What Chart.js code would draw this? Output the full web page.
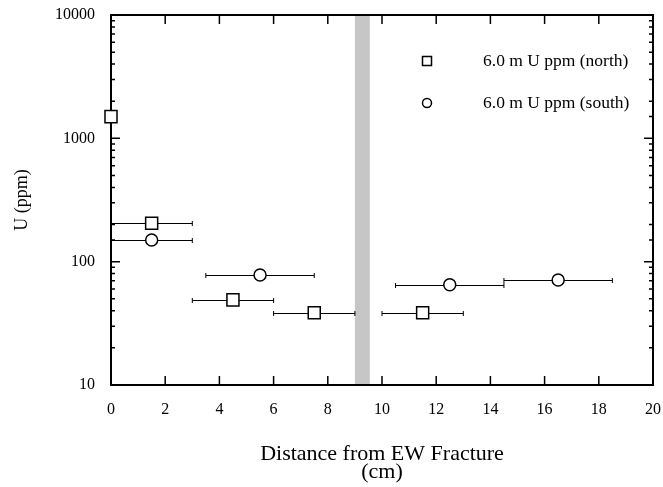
<!DOCTYPE html>
<html><head><meta charset="utf-8">
<script src="https://cdn.jsdelivr.net/npm/chart.js@4/dist/chart.umd.min.js"></script>
<style>html,body{margin:0;padding:0;background:#fff}</style>
</head><body>
<canvas id="c" width="663" height="487"></canvas>
<script>
// ---- data ----
const northLabel = '6.0 m U ppm (north)';
const southLabel = '6.0 m U ppm (south)';
const northX   = [0, 1.5, 4.5, 7.5, 11.5];
const northY   = [1500, 205, 49, 38.5, 38.5];
const northXLo = [null, 0, 3, 6, 10];
const northXHi = [null, 3, 6, 9, 13];
const southX   = [1.5, 5.5, 12.5, 16.5];
const southY   = [150, 78, 65, 71];
const southXLo = [0, 3.5, 10.5, 14.5];
const southXHi = [3, 7.5, 14.5, 18.5];
const fractureBand = [9.0, 9.55];
const xTickValues = [0, 2, 4, 6, 8, 10, 12, 14, 16, 18, 20];
const yTickValues = [10, 100, 1000, 10000];
const xTitle = ['Distance from EW Fracture', '(cm)'];
const yTitle = 'U (ppm)';

const FONT = "'Liberation Serif', 'Times New Roman', serif";

function pts(xs, ys) { return xs.map((x, i) => ({x: x, y: ys[i]})); }

const errorBars = [
  {x: northX, y: northY, lo: northXLo, hi: northXHi},
  {x: southX, y: southY, lo: southXLo, hi: southXHi}
];

const framePlugin = {
  id: 'frame',
  beforeDatasetsDraw(chart) {
    const {ctx, chartArea: a, scales: {x, y}} = chart;
    ctx.save();
    // fracture band
    const b0 = x.getPixelForValue(fractureBand[0]);
    const b1 = x.getPixelForValue(fractureBand[1]);
    ctx.fillStyle = '#c6c6c6';
    ctx.fillRect(b0, a.top, b1 - b0, a.bottom - a.top);
    // error bars
    ctx.strokeStyle = '#000';
    ctx.lineWidth = 1;
    errorBars.forEach(s => {
      s.x.forEach((_, i) => {
        if (s.lo[i] == null) return;
        const py = Math.round(y.getPixelForValue(s.y[i])) + 0.5;
        const p0 = x.getPixelForValue(s.lo[i]);
        const p1 = x.getPixelForValue(s.hi[i]);
        ctx.beginPath();
        ctx.moveTo(p0, py); ctx.lineTo(p1, py);
        ctx.moveTo(p0, py - 2.5); ctx.lineTo(p0, py + 2.5);
        ctx.moveTo(p1, py - 2.5); ctx.lineTo(p1, py + 2.5);
        ctx.stroke();
      });
    });
    // frame
    ctx.lineWidth = 2;
    ctx.strokeRect(a.left, a.top, a.right - a.left, a.bottom - a.top);
    // y ticks (inward, both sides)
    ctx.lineWidth = 1.5;
    y.ticks.forEach(t => {
      const py = y.getPixelForValue(t.value);
      const major = yTickValues.includes(t.value);
      const len = major ? 9 : 4;
      ctx.beginPath();
      ctx.moveTo(a.left, py); ctx.lineTo(a.left + len, py);
      ctx.moveTo(a.right, py); ctx.lineTo(a.right - len, py);
      ctx.stroke();
    });
    // x ticks (inward, top & bottom)
    x.ticks.forEach(t => {
      const px = x.getPixelForValue(t.value);
      ctx.beginPath();
      ctx.moveTo(px, a.bottom); ctx.lineTo(px, a.bottom - 9);
      ctx.moveTo(px, a.top); ctx.lineTo(px, a.top + 9);
      ctx.stroke();
    });
    ctx.restore();
  },
  afterDraw(chart) {
    const {ctx, chartArea: a} = chart;
    ctx.save();
    const mx = a.left + 316, tx = a.left + 372;
    const rows = [a.top + 46, a.top + 88];
    ctx.strokeStyle = '#000'; ctx.fillStyle = '#fff'; ctx.lineWidth = 1.5;
    ctx.strokeRect(mx - 4.5, rows[0] - 4.5, 9, 9);
    ctx.beginPath(); ctx.arc(mx, rows[1], 4.5, 0, Math.PI * 2); ctx.fill(); ctx.stroke();
    ctx.fillStyle = '#000';
    ctx.font = '17.5px ' + FONT;
    ctx.textBaseline = 'middle';
    ctx.fillText(northLabel, tx, rows[0]);
    ctx.fillText(southLabel, tx, rows[1]);
    ctx.restore();
  }
};

new Chart(document.getElementById('c'), {
  type: 'scatter',
  data: {
    datasets: [
      {label: northLabel, data: pts(northX, northY), pointStyle: 'rect', pointRadius: 8.5,
       borderColor: '#000', backgroundColor: '#fff', pointBorderWidth: 1.5, clip: false},
      {label: southLabel, data: pts(southX, southY), pointStyle: 'circle', pointRadius: 6,
       borderColor: '#000', backgroundColor: '#fff', pointBorderWidth: 1.5, clip: false}
    ]
  },
  options: {
    responsive: false, animation: false, devicePixelRatio: 1,
    layout: {padding: {top: 15, right: 7, left: 0, bottom: 0}},
    plugins: {legend: {display: false}, tooltip: {enabled: false}},
    scales: {
      x: {
        type: 'linear', min: 0, max: 20,
        afterBuildTicks: s => { s.ticks = xTickValues.map(v => ({value: v})); },
        grid: {display: false, drawTicks: false}, border: {display: false},
        ticks: {color: '#000', font: {family: FONT, size: 16}, padding: 15, maxRotation: 0},
        title: {display: true, text: xTitle, color: '#000',
                font: {family: FONT, size: 22, lineHeight: '18px'}, padding: {top: 0, bottom: 6}},
        afterFit: s => { s.height = 102; s.paddingLeft = 0; s.paddingRight = 0; }
      },
      y: {
        type: 'logarithmic', min: 10, max: 10000,
        grid: {display: false, drawTicks: false}, border: {display: false},
        ticks: {color: '#000', font: {family: FONT, size: 16}, padding: 16, autoSkip: false,
                callback: v => yTickValues.includes(v) ? String(v) : ''},
        title: {display: true, text: yTitle, color: '#000',
                font: {family: FONT, size: 18}, padding: {top: 11, bottom: 0}},
        afterFit: s => { s.width = 111; s.paddingTop = 0; s.paddingBottom = 0; }
      }
    }
  },
  plugins: [framePlugin]
});
</script>
</body></html>
